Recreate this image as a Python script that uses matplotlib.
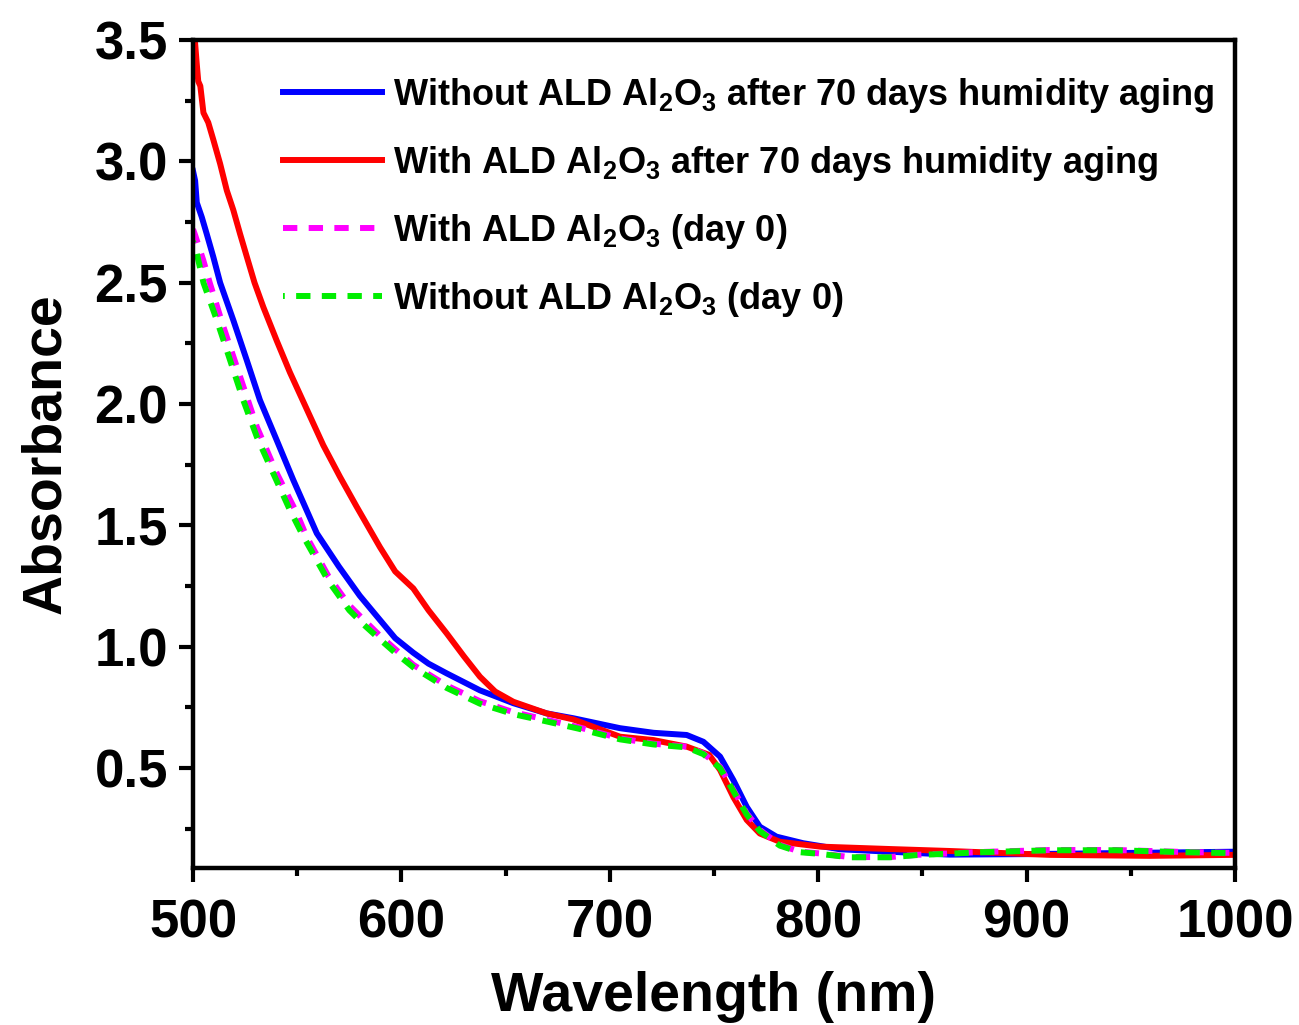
import matplotlib
matplotlib.use("Agg")
import matplotlib.pyplot as plt
from matplotlib.ticker import MultipleLocator

plt.rcParams['font.family'] = ['Liberation Sans', 'DejaVu Sans']
plt.rcParams['font.weight'] = 'bold'
plt.rcParams['mathtext.fontset'] = 'custom'
plt.rcParams['mathtext.rm'] = 'Liberation Sans:bold'
plt.rcParams['mathtext.bf'] = 'Liberation Sans:bold'

# without ALD, after 70 days humidity aging (blue)
wl_blue = [500, 501, 501.8, 504.2, 506.6, 509.7, 513, 519.3, 525.8, 532.1, 540.2, 548.1, 559.4,
           570, 580, 589.7, 597, 605.7, 613, 621.7, 637.7, 653.7, 669.7, 682.5, 704.9, 721,
           736.9, 744.9, 752.9, 759.3, 765.7, 772, 780, 792.8, 810.5, 834.5, 863, 900, 950, 1000]
abs_blue = [2.96, 2.92, 2.83, 2.77, 2.70, 2.607, 2.50, 2.346, 2.18, 2.016, 1.85, 1.687, 1.467,
            1.33, 1.21, 1.11, 1.035, 0.975, 0.93, 0.89, 0.82, 0.767, 0.725, 0.705, 0.664, 0.645,
            0.636, 0.608, 0.547, 0.45, 0.34, 0.258, 0.217, 0.19, 0.165, 0.155, 0.143, 0.145, 0.15, 0.155]

# with ALD, after 70 days humidity aging (red)
wl_red = [500, 501, 501.8, 502.5, 503.5, 505, 507.3, 509.7, 513, 516.2, 519.3, 522.6, 525.8,
          529.5, 533.7, 540.2, 546.5, 554.5, 562.5, 570.5, 578.5, 585, 589.7, 597, 605.7, 613,
          621.7, 630, 637.7, 645, 653.7, 669.7, 682.5, 704.9, 721, 736.9, 747.7, 752.9, 759.3,
          765.7, 772, 781.6, 800.9, 834.5, 863, 911, 959, 1000]
abs_red = [3.55, 3.486, 3.40, 3.33, 3.31, 3.20, 3.16, 3.09, 2.99, 2.88, 2.80, 2.70, 2.607,
           2.50, 2.40, 2.26, 2.13, 1.98, 1.83, 1.70, 1.577, 1.48, 1.41, 1.31, 1.24, 1.15,
           1.055, 0.96, 0.876, 0.815, 0.773, 0.725, 0.70, 0.629, 0.615, 0.588, 0.554, 0.492, 0.38,
           0.286, 0.23, 0.196, 0.176, 0.166, 0.158, 0.142, 0.138, 0.142]

# with ALD, day 0 (magenta)
wl_mag = [500, 501, 505, 508, 514.5, 522.6, 530.6, 540.2, 549.8, 554.5, 565, 575, 582, 589.7,
          597, 605.7, 621.7, 637.7, 653.7, 666.5, 685, 704.9, 721, 736.9, 744.9, 752.9, 759.3,
          765.7, 772, 781.6, 791.2, 800.9, 815, 834.5, 847, 879, 911, 943, 975, 1000]
abs_mag = [2.72, 2.696, 2.59, 2.50, 2.32, 2.112, 1.906, 1.714, 1.55, 1.453, 1.29, 1.17, 1.11, 1.045,
           0.99, 0.925, 0.84, 0.775, 0.73, 0.705, 0.668, 0.622, 0.60, 0.588, 0.56, 0.505, 0.41,
           0.313, 0.245, 0.183, 0.155, 0.148, 0.133, 0.133, 0.142, 0.154, 0.162, 0.162, 0.154, 0.15]

# without ALD, day 0 (green)
wl_grn = [500, 501, 505, 511.4, 517.8, 524.1, 530.6, 538.5, 546.5, 553, 565, 575, 582, 589.7,
          597, 605.7, 621.7, 637.7, 653.7, 666.5, 685, 704.9, 721, 736.9, 744.9, 752.9, 759.3,
          765.7, 772, 781.6, 791.2, 800.9, 815, 834.5, 847, 879, 911, 943, 975, 1000]
abs_grn = [2.67, 2.65, 2.50, 2.346, 2.18, 2.016, 1.865, 1.714, 1.563, 1.453, 1.27, 1.15, 1.09, 1.03,
           0.975, 0.915, 0.83, 0.765, 0.722, 0.698, 0.662, 0.618, 0.597, 0.585, 0.557, 0.50, 0.405,
           0.308, 0.24, 0.18, 0.153, 0.146, 0.132, 0.132, 0.141, 0.153, 0.161, 0.161, 0.153, 0.149]

labels = [r'Without ALD Al$_{2}$O$_{3}$ after 70 days humidity aging',
          r'With ALD Al$_{2}$O$_{3}$ after 70 days humidity aging',
          r'With ALD Al$_{2}$O$_{3}$ (day 0)',
          r'Without ALD Al$_{2}$O$_{3}$ (day 0)']

fig = plt.figure(figsize=(12.99, 10.25), dpi=100)
ax = fig.add_axes([0.1486, 0.1532, 0.8021, 0.8078])

lw = 4.3
ax.plot(wl_blue, abs_blue, color='#0000ff', lw=lw, label=labels[0])
ax.plot(wl_red, abs_red, color='#ff0000', lw=lw, label=labels[1])
ax.plot(wl_mag, abs_mag, color='#ff00ff', lw=lw, ls=(0, (2.4, 1.9)), label=labels[2])
ax.plot(wl_grn, abs_grn, color='#00ee00', lw=lw, ls=(2.1, (2.4, 1.9)), label=labels[3])

ax.set_xlim(500, 1000)
ax.set_ylim(0.088, 3.5)
ax.xaxis.set_major_locator(MultipleLocator(100))
ax.xaxis.set_minor_locator(MultipleLocator(50))
ax.yaxis.set_minor_locator(MultipleLocator(0.25))
ax.set_yticks([0.5, 1.0, 1.5, 2.0, 2.5, 3.0, 3.5])

for s in ax.spines.values():
    s.set_linewidth(3.2)
ax.tick_params(which='both', direction='out', width=3.0, labelsize=38, top=False, right=False)
ax.tick_params(which='major', length=10)
ax.tick_params(which='minor', length=6)
ax.tick_params(axis='x', which='major', pad=12)
ax.tick_params(axis='y', which='major', pad=8)

ax.set_xlabel('Wavelength (nm)', fontsize=40, fontweight='bold', labelpad=16)
ax.set_ylabel('Absorbance', fontsize=40, fontweight='bold', labelpad=16)

leg = ax.legend(loc='upper right', bbox_to_anchor=(1.015, 1.0), frameon=False, fontsize=26,
                handlelength=2.75, handletextpad=0.3, labelspacing=0.8, borderaxespad=0.6)

fig.savefig('out.png', dpi=100)
